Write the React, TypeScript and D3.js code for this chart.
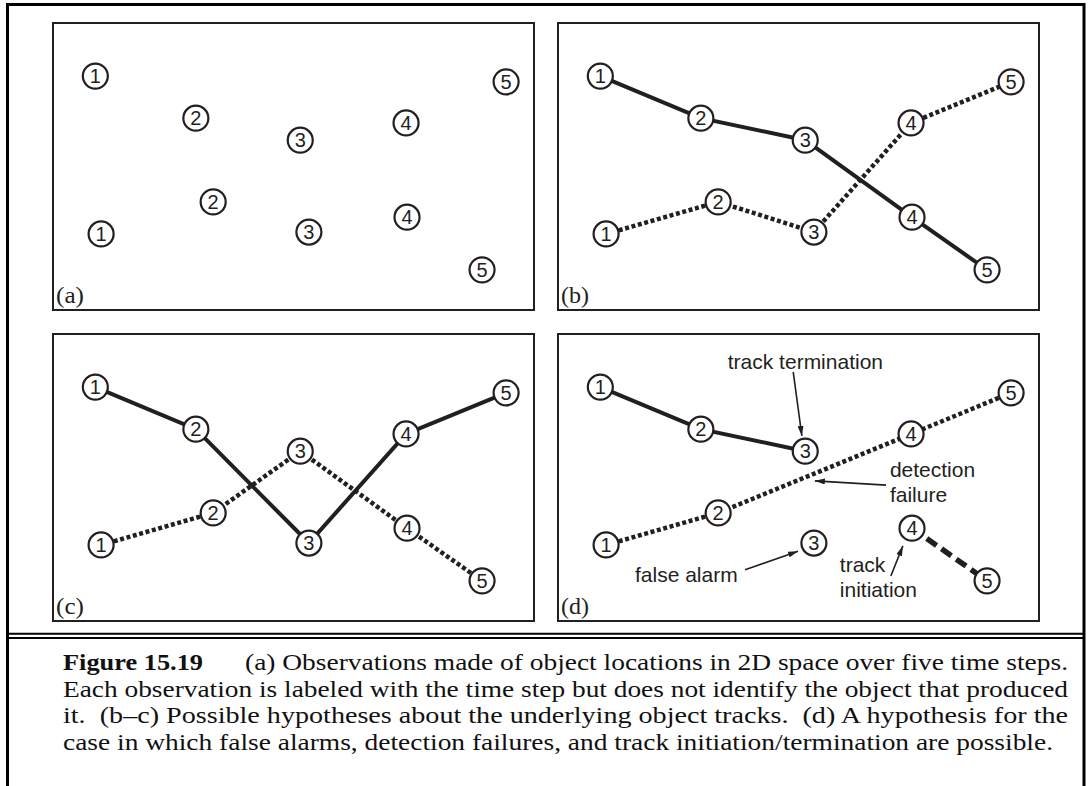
import * as d3 from 'd3';
import { useEffect, useRef } from 'react';

// observations shared by every panel (x: 0-10 across, y: 0-6 down)
const pointIds = ['1a', '1b', '2a', '2b', '3a', '3b', '4a', '4b', '5a', '5b'];
const pointStep = [1, 1, 2, 2, 3, 3, 4, 4, 5, 5];
const pointX = [0.88, 1.0, 2.97, 3.33, 5.14, 5.32, 7.34, 7.36, 9.42, 8.92];
const pointY = [1.11, 4.41, 1.99, 3.74, 2.45, 4.37, 2.09, 4.06, 1.23, 5.16];

const panelNames = ['(a)', '(b)', '(c)', '(d)'];

// hypotheses for each panel
const tracksA: { style: string; ids: string[] }[] = [];
const tracksB = [
  { style: 'solid', ids: ['1a', '2a', '3a', '4b', '5b'] },
  { style: 'dotted', ids: ['1b', '2b', '3b', '4a', '5a'] },
];
const tracksC = [
  { style: 'solid', ids: ['1a', '2a', '3b', '4a', '5a'] },
  { style: 'dotted', ids: ['1b', '2b', '3a', '4b', '5b'] },
];
const tracksD = [
  { style: 'solid', ids: ['1a', '2a', '3a'] },
  { style: 'dotted', ids: ['1b', '2b', '4a', '5a'] },
  { style: 'dashed', ids: ['4b', '5b'] },
];
const panelTracks = [tracksA, tracksB, tracksC, tracksD];

// annotations in panel (d)
const noteLines = [
  { text: 'track termination', x: 3.53, y: 0.73 },
  { text: 'detection', x: 6.9, y: 2.99 },
  { text: 'failure', x: 6.9, y: 3.51 },
  { text: 'false alarm', x: 1.6, y: 5.19 },
  { text: 'track', x: 5.86, y: 4.98 },
  { text: 'initiation', x: 5.86, y: 5.5 },
];
const noteArrows = [
  { x1: 4.89, y1: 0.79, x2: 5.07, y2: 2.13 },
  { x1: 6.82, y1: 3.16, x2: 5.34, y2: 3.07 },
  { x1: 3.89, y1: 4.93, x2: 4.99, y2: 4.54 },
  { x1: 6.92, y1: 5.06, x2: 7.17, y2: 4.43 },
];

const captionHead = 'Figure 15.19';
const captionLines = [
  '(a) Observations made of object locations in 2D space over five time steps.',
  'Each observation is labeled with the time step but does not identify the object that produced',
  'it.\u00a0 (b–c) Possible hypotheses about the underlying object tracks.\u00a0 (d) A hypothesis for the',
  'case in which false alarms, detection failures, and track initiation/termination are possible.',
];

export default function App() {
  const svgRef = useRef<SVGSVGElement>(null);

  useEffect(() => {
    if (!svgRef.current) return;
    const width = 1089;
    const height = 786;
    const ink = '#231f20';

    const svg = d3.select(svgRef.current).attr('width', width).attr('height', height);
    svg.selectAll('*').remove();

    svg.append('defs')
      .append('marker')
      .attr('id', 'arr')
      .attr('markerUnits', 'userSpaceOnUse')
      .attr('viewBox', '0 0 10 6')
      .attr('refX', 10)
      .attr('refY', 3)
      .attr('markerWidth', 10)
      .attr('markerHeight', 6)
      .attr('orient', 'auto')
      .append('path')
      .attr('d', 'M0,0 L10,3 L0,6 Z')
      .attr('fill', ink);

    const col = d3.scaleBand<number>().domain([0, 1]).range([53, 1039]).paddingInner(24 / 505);
    const row = d3.scaleBand<number>().domain([0, 1]).range([23, 621]).paddingInner(24 / 311);
    const pw = col.bandwidth();
    const ph = row.bandwidth();
    const x = d3.scaleLinear().domain([0, 10]).range([0, pw]);
    const y = d3.scaleLinear().domain([0, 6]).range([0, ph]);

    const pos = (id: string) => {
      const i = pointIds.indexOf(id);
      return [x(pointX[i]), y(pointY[i])] as [number, number];
    };
    const line = d3.line<string>().x((d) => pos(d)[0]).y((d) => pos(d)[1]);

    const styles: Record<string, { w: number; dash: string | null }> = {
      solid: { w: 4, dash: null },
      dotted: { w: 4.5, dash: '4 2.6' },
      dashed: { w: 5.5, dash: '12 6' },
    };

    panelNames.forEach((name, p) => {
      const g = svg.append('g')
        .attr('transform', `translate(${col(p % 2)},${row(Math.floor(p / 2))})`);

      g.append('rect')
        .attr('width', pw)
        .attr('height', ph)
        .attr('fill', 'none')
        .attr('stroke', ink)
        .attr('stroke-width', 2);

      g.append('text')
        .attr('x', 3)
        .attr('y', ph - 7)
        .attr('font-family', '"Liberation Serif", "Times New Roman", serif')
        .attr('font-size', 24)
        .attr('textLength', 28)
        .attr('lengthAdjust', 'spacingAndGlyphs')
        .attr('fill', ink)
        .text(name);

      // tracks
      g.selectAll('path.track')
        .data(panelTracks[p])
        .enter()
        .append('path')
        .attr('class', 'track')
        .attr('d', (d) => line(d.ids))
        .attr('fill', 'none')
        .attr('stroke', ink)
        .attr('stroke-width', (d) => styles[d.style].w)
        .attr('stroke-dasharray', (d) => styles[d.style].dash);

      // observations
      const obs = g.selectAll('g.obs')
        .data(pointIds)
        .enter()
        .append('g')
        .attr('class', 'obs')
        .attr('transform', (d) => `translate(${pos(d)})`);
      obs.append('circle')
        .attr('r', 12.5)
        .attr('fill', '#fff')
        .attr('stroke', ink)
        .attr('stroke-width', 2.2);
      obs.append('text')
        .attr('text-anchor', 'middle')
        .attr('dy', '0.36em')
        .attr('font-family', '"Liberation Sans", Arial, sans-serif')
        .attr('font-size', 20)
        .attr('fill', ink)
        .text((d) => pointStep[pointIds.indexOf(d)]);

      if (p === 3) {
        g.selectAll('line.note')
          .data(noteArrows)
          .enter()
          .append('line')
          .attr('class', 'note')
          .attr('x1', (d) => x(d.x1))
          .attr('y1', (d) => y(d.y1))
          .attr('x2', (d) => x(d.x2))
          .attr('y2', (d) => y(d.y2))
          .attr('stroke', ink)
          .attr('stroke-width', 1.6)
          .attr('marker-end', 'url(#arr)');
        g.selectAll('text.note')
          .data(noteLines)
          .enter()
          .append('text')
          .attr('class', 'note')
          .attr('x', (d) => x(d.x))
          .attr('y', (d) => y(d.y))
          .attr('font-family', '"Liberation Sans", Arial, sans-serif')
          .attr('font-size', 21)
          .attr('fill', ink)
          .text((d) => d.text);
      }
    });

    // outer frame and caption rule
    svg.append('path')
      .attr('d', `M7.5,${height} V4.5 H1084 V${height}`)
      .attr('fill', 'none')
      .attr('stroke', '#000')
      .attr('stroke-width', 3);
    [633.7, 638].forEach((ly) => {
      svg.append('line')
        .attr('x1', 7.5)
        .attr('x2', 1084)
        .attr('y1', ly)
        .attr('y2', ly)
        .attr('stroke', '#000')
        .attr('stroke-width', 2);
    });

    const cap = svg.append('g')
      .attr('font-family', '"Liberation Serif", "Times New Roman", serif')
      .attr('font-size', 24)
      .attr('fill', '#111');
    cap.append('text')
      .attr('x', 63)
      .attr('y', 670)
      .attr('font-weight', 'bold')
      .attr('textLength', 140)
      .attr('lengthAdjust', 'spacingAndGlyphs')
      .text(captionHead);
    const starts = [245, 63, 63, 63];
    const ends = [1068, 1068, 1068, 1053];
    const baselines = [670, 696.5, 723, 749.5];
    captionLines.forEach((t, i) => {
      cap.append('text')
        .attr('x', starts[i])
        .attr('y', baselines[i])
        .attr('textLength', ends[i] - starts[i])
        .attr('lengthAdjust', 'spacingAndGlyphs')
        .text(t);
    });
  }, []);

  return (
    <svg
      ref={svgRef}
      style={{ position: 'absolute', left: 0, top: 0, background: '#fff' }}
    />
  );
}
